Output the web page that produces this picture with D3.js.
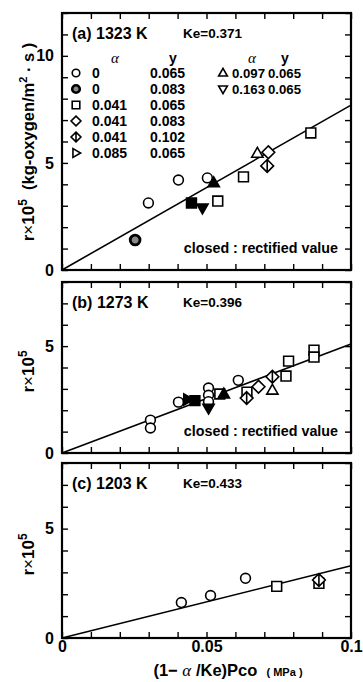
<!DOCTYPE html>
<html lang="en">
<head>
<meta charset="UTF-8" />
<script src="https://d3js.org/d3.v7.min.js"></script>
<style>
  body { margin: 0; background: #fff; }
  text { font-family: "Liberation Sans", Arial, sans-serif; font-weight: bold; fill: #000; }
  .greek { font-family: "Liberation Serif", serif; font-style: italic; font-weight: normal; }
</style>
</head>
<body>
<svg width="363" height="682"></svg>
<script>
// panel (a) 1323 K
const aX = [0.0299, 0.0403, 0.0503, 0.0253, 0.0448, 0.0486, 0.0525, 0.0539, 0.0628, 0.0861, 0.0676, 0.0714, 0.0710];
const aY = [3.13, 4.20, 4.30, 1.40, 3.13, 2.90, 4.07, 3.22, 4.35, 6.40, 5.45, 5.50, 4.86];
const aSym = ["circle", "circle", "circle", "circleBold", "square", "triDown", "triUp", "square", "square", "square", "triUp", "diamond", "diamondX"];
const aFill = [0, 0, 0, 0, 1, 1, 1, 0, 0, 0, 0, 0, 0];

// panel (b) 1273 K
const bX = [0.0306, 0.0306, 0.0403, 0.0435, 0.0460, 0.0507, 0.0507, 0.0507, 0.0507, 0.0546, 0.0560, 0.0610, 0.0640, 0.0639, 0.0680, 0.0728, 0.0728, 0.0775, 0.0784, 0.0872, 0.0872];
const bY = [1.54, 1.17, 2.38, 2.50, 2.45, 3.04, 2.70, 2.40, 2.10, 2.76, 2.76, 3.40, 2.85, 2.57, 3.10, 3.57, 2.94, 3.60, 4.30, 4.81, 4.49];
const bSym = ["circle", "circle", "circle", "triRight", "square", "circle", "circle", "circle", "triDown", "square", "triUp", "circle", "square", "diamondX", "diamond", "diamondX", "triUp", "square", "square", "square", "square"];
const bFill = [0, 0, 0, 1, 1, 0, 0, 0, 1, 0, 1, 0, 0, 0, 0, 0, 0, 0, 0, 0, 0];

// panel (c) 1203 K
const cX = [0.0413, 0.0514, 0.0635, 0.0743, 0.0889, 0.0889];
const cY = [1.62, 1.94, 2.73, 2.36, 2.50, 2.65];
const cSym = ["circle", "circle", "circle", "square", "square", "diamondX"];
const cFill = [0, 0, 0, 0, 0, 0];

// fitted lines through the origin: r at x = 0.1
const lineEnd = [7.7, 5.1, 3.3];
const titles = ["(a) 1323 K", "(b) 1273 K", "(c) 1203 K"];
const keText = ["Ke=0.371", "Ke=0.396", "Ke=0.433"];
const yMax = [12, 8, 8];

// legend (panel a)
const legAlpha = ["0", "0", "0.041", "0.041", "0.041", "0.085", "0.097", "0.163"];
const legY = ["0.065", "0.083", "0.065", "0.083", "0.102", "0.065", "0.065", "0.065"];
const legSym = ["circle", "circleBold", "square", "diamond", "diamondX", "triRight", "triUp", "triDown"];

const svg = d3.select("svg");
const left = 62, right = 351;
const boxes = [{ top: 13, bottom: 270 }, { top: 282, bottom: 453 }, { top: 463, bottom: 638 }];

const x = d3.scaleLinear().domain([0, 0.1]).range([left, right]);

function symPath(type, r) {
  switch (type) {
    case "circle":
    case "circleBold":
      return `M${r},0A${r},${r} 0 1,1 ${-r},0A${r},${r} 0 1,1 ${r},0Z`;
    case "square":
      return `M${-r},${-r}H${r}V${r}H${-r}Z`;
    case "diamond":
      return `M0,${-r * 1.3}L${r * 1.3},0L0,${r * 1.3}L${-r * 1.3},0Z`;
    case "diamondX":
      return `M0,${-r * 1.3}L${r * 1.3},0L0,${r * 1.3}L${-r * 1.3},0Z M0,${-r * 1.3}V${r * 1.3}`;
    case "triUp":
      return `M0,${-r * 1.2}L${r * 1.15},${r * 0.8}L${-r * 1.15},${r * 0.8}Z`;
    case "triDown":
      return `M0,${r * 1.2}L${r * 1.15},${-r * 0.8}L${-r * 1.15},${-r * 0.8}Z`;
    case "triRight":
      return `M${r * 1.2},0L${-r * 0.8},${r * 1.15}L${-r * 0.8},${-r * 1.15}Z`;
  }
}

function drawSymbols(g, xs, ys, syms, fills, y, r) {
  g.selectAll("path.pt")
    .data(xs.map((d, i) => ({ x: d, y: ys[i], s: syms[i], f: fills[i] })))
    .join("path")
    .attr("class", "pt")
    .attr("transform", d => `translate(${x(d.x)},${y(d.y)})`)
    .attr("d", d => symPath(d.s, r))
    .attr("fill", d => d.f ? "#000" : (d.s === "circleBold" ? "#888" : "#fff"))
    .attr("stroke", "#000")
    .attr("stroke-width", d => d.s === "circleBold" ? 2.8 : 1.6);
}

const panelData = [
  [aX, aY, aSym, aFill],
  [bX, bY, bSym, bFill],
  [cX, cY, cSym, cFill]
];

panelData.forEach((pd, p) => {
  const box = boxes[p];
  const y = d3.scaleLinear().domain([0, yMax[p]]).range([box.bottom, box.top]);
  const g = svg.append("g");

  // inward ticks on all four sides
  const fmtY = d => (d % 5 === 0 ? d : "");
  g.append("g").attr("transform", `translate(${left},0)`)
    .call(d3.axisLeft(y).ticks(yMax[p]).tickSize(-6).tickPadding(8).tickFormat(fmtY))
    .call(a => a.select(".domain").remove())
    .call(a => a.selectAll("text").style("font-size", "16px").attr("font-family", null));
  g.append("g").attr("transform", `translate(${right},0)`)
    .call(d3.axisRight(y).ticks(yMax[p]).tickSize(-6).tickFormat(""))
    .call(a => a.select(".domain").remove());
  const fmtX = d => (p === 2 && [0, 0.05, 0.1].some(v => Math.abs(v - d) < 1e-9) ? (d === 0 ? "0" : d3.format("")(+d.toFixed(2))) : "");
  g.append("g").attr("transform", `translate(0,${box.bottom})`)
    .call(d3.axisBottom(x).ticks(10).tickSize(-6).tickPadding(3).tickFormat(fmtX))
    .call(a => a.select(".domain").remove())
    .call(a => a.selectAll("text").style("font-size", "16px").attr("font-family", null));
  g.append("g").attr("transform", `translate(0,${box.top})`)
    .call(d3.axisTop(x).ticks(10).tickSize(-6).tickFormat(""))
    .call(a => a.select(".domain").remove());
  g.selectAll(".tick line").attr("stroke-width", 1.4);

  g.append("rect")
    .attr("x", left).attr("y", box.top)
    .attr("width", right - left).attr("height", box.bottom - box.top)
    .attr("fill", "none").attr("stroke", "#000").attr("stroke-width", 2.2);

  // regression line
  g.append("line")
    .attr("x1", x(0)).attr("y1", y(0))
    .attr("x2", x(0.1)).attr("y2", y(lineEnd[p]))
    .attr("stroke", "#000").attr("stroke-width", 1.6);

  drawSymbols(g, pd[0], pd[1], pd[2], pd[3], y, 4.9);

  g.append("text").attr("x", 72).attr("y", box.top + 26)
    .style("font-size", "16px").text(titles[p]);
  g.append("text").attr("x", 183).attr("y", box.top + 25)
    .style("font-size", "13.5px").text(keText[p]);

  if (p < 2) {
    g.append("text").attr("x", 338).attr("y", box.bottom - 17)
      .attr("text-anchor", "end").style("font-size", "14.3px")
      .text("closed : rectified value");
  }

  // y title
  const yt = g.append("text")
    .attr("transform", `translate(34,${p === 0 ? 142 : (box.top + box.bottom) / 2 + 4}) rotate(-90)`)
    .attr("text-anchor", "middle").style("font-size", "17px");
  yt.append("tspan").text("r");
  yt.append("tspan").style("font-weight", "normal").text("×");
  yt.append("tspan").text("10");
  yt.append("tspan").attr("dy", -7).style("font-size", "12px").text("5");
  if (p === 0) {
    yt.append("tspan").attr("dy", 7).style("font-size", "16.5px").text("\u00a0 (kg-oxygen/m");
    yt.append("tspan").attr("dy", -7).style("font-size", "11px").text("2");
    yt.append("tspan").attr("dy", 7).style("font-size", "16.5px").text(" \u00b7 s )");
  }
});

// legend in panel (a)
const leg = svg.append("g");
const rowY = i => 73 + 16 * i;
const legPos = legSym.map((s, i) => i < 6
  ? { sx: 76, ax: 92, yx: 150, yy: rowY(i) }
  : { sx: 223, ax: 232, yx: 268, yy: rowY(i - 6) });
[[115, 173], [252, 285]].forEach(h => {
  leg.append("text").attr("class", "greek").attr("x", h[0]).attr("y", 63)
    .attr("text-anchor", "middle").style("font-size", "15px").text("α");
  leg.append("text").attr("x", h[1]).attr("y", 63)
    .attr("text-anchor", "middle").style("font-size", "14px").text("y");
});
legSym.forEach((s, i) => {
  const pos = legPos[i];
  leg.append("path")
    .attr("transform", `translate(${pos.sx},${pos.yy})`)
    .attr("d", symPath(s, 3.8))
    .attr("fill", s === "circleBold" ? "#888" : "#fff")
    .attr("stroke", "#000").attr("stroke-width", s === "circleBold" ? 2.6 : 1.6);
  leg.append("text").attr("x", pos.ax).attr("y", pos.yy + 5)
    .style("font-size", i < 6 ? "14px" : "13.2px").text(legAlpha[i]);
  leg.append("text").attr("x", pos.yx).attr("y", pos.yy + 5)
    .style("font-size", i < 6 ? "14px" : "13.2px").text(legY[i]);
});

// x title
const xt = svg.append("text").attr("x", 228).attr("y", 676)
  .attr("text-anchor", "middle").style("font-size", "16.5px");
xt.append("tspan").text("(1\u2212 ");
xt.append("tspan").attr("class", "greek").style("font-size", "17px").text("α");
xt.append("tspan").text(" /Ke)Pco\u00a0\u00a0");
xt.append("tspan").style("font-size", "11px").text("( MPa )");
</script>
</body>
</html>
